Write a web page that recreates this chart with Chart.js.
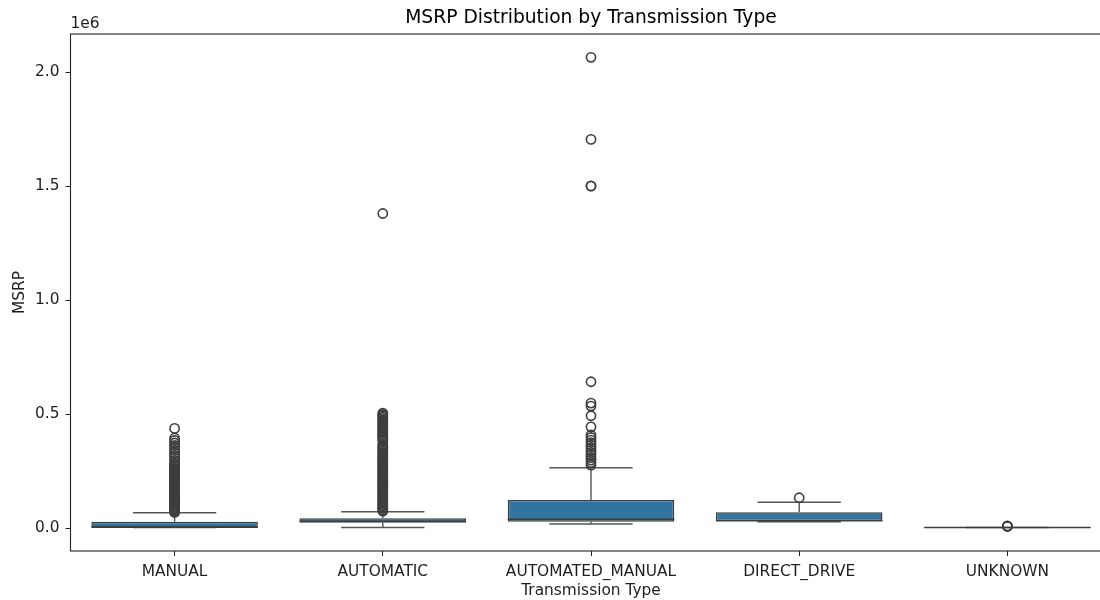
<!DOCTYPE html>
<html>
<head>
<meta charset="utf-8">
<script src="https://cdn.jsdelivr.net/npm/chart.js@4.4.1/dist/chart.umd.min.js"></script>
<style>
  html, body { margin: 0; padding: 0; background: #fff; overflow: hidden; }
  canvas { display: block; }
</style>
</head>
<body>
<canvas id="msrpBox" width="1130" height="600"></canvas>
<script>
// Categories and box statistics (MSRP in dollars)
const transmissions = ['MANUAL', 'AUTOMATIC', 'AUTOMATED_MANUAL', 'DIRECT_DRIVE', 'UNKNOWN'];
const whiskerLow = [2000, 2000, 17500, 27600, 2000];
const q1 = [2000, 23200, 27600, 30500, 2000];
const medians = [3500, 29500, 38000, 31500, 2000];
const q3 = [27600, 42500, 122800, 68700, 2100];
const whiskerHigh = [67000, 71500, 264500, 112700, 2100];

// Outliers per category
const manualOutliers = [
  68500, 73000, 79500, 84000, 90500, 95000, 101500, 107000, 112000, 118500,
  123000, 129500, 135000, 140000, 146500, 151000, 157500, 163000, 168000, 174500,
  180000, 185500, 191000, 197500, 203000, 208000, 214500, 220000, 226500, 231000,
  237500, 243000, 249000, 255500, 261000, 267000, 272500, 279000, 285000, 296000,
  307000, 318000, 329000, 340000, 351000, 362000, 373000, 384000, 395000, 437000
];
const automaticOutliers = [
  74000, 79500, 86000, 91000, 97500, 103000, 109500, 115000, 121000, 127500,
  133000, 139500, 145000, 151000, 157500, 163000, 169000, 175500, 181000, 187000,
  193500, 199000, 205500, 211000, 217000, 223500, 229000, 235000, 241500, 247000,
  253000, 259500, 265000, 271000, 277500, 283000, 289000, 295500, 301000, 307000,
  313500, 319000, 325000, 331500, 338000, 345000, 352500, 359000, 366000, 383000,
  390000, 396500, 402000, 408000, 414500, 420000, 426000, 432500, 438000, 444000,
  450500, 456000, 462000, 468500, 474000, 480000, 486500, 492000, 498000, 504000,
  1380000
];
const automatedManualOutliers = [
  276000, 287000, 298000, 309000, 320000, 331000, 342000, 353000, 364000, 375000,
  386000, 397000, 408000, 444000, 492500, 535000, 548000, 641700,
  1500000, 1501000, 1705000, 2065000
];
const directDriveOutliers = [132900];
const unknownOutliers = [6500, 8000, 9000];

const outlierLists = [manualOutliers, automaticOutliers, automatedManualOutliers, directDriveOutliers, unknownOutliers];

const yTickValues = [0, 500000, 1000000, 1500000, 2000000];

const outlierPoints = [];
outlierLists.forEach((list, i) => {
  list.forEach(v => outlierPoints.push({ x: transmissions[i], y: v }));
});

const lineColor = '#3d3d3d';
const boxFill = '#3274a1';
const textColor = '#1e1e1e';
const fontFamily = '"DejaVu Sans", sans-serif';

// whiskers, caps and medians, plus the frame and header texts
const boxDecor = {
  id: 'boxDecor',
  afterDatasetDraw(chart, args) {
    if (args.index !== 1) return;
    const ctx = chart.ctx;
    const x = chart.scales.x;
    const y = chart.scales.y;
    const bars = chart.getDatasetMeta(1).data;
    ctx.save();
    ctx.lineCap = 'butt';
    transmissions.forEach((t, i) => {
      const cx = x.getPixelForValue(i);
      const half = bars[i].width / 2;
      const cap = half / 2;
      ctx.strokeStyle = '#555';
      ctx.lineWidth = 1.4;
      ctx.beginPath();
      ctx.moveTo(cx, y.getPixelForValue(q3[i]));
      ctx.lineTo(cx, y.getPixelForValue(whiskerHigh[i]));
      ctx.moveTo(cx - cap, y.getPixelForValue(whiskerHigh[i]));
      ctx.lineTo(cx + cap, y.getPixelForValue(whiskerHigh[i]));
      ctx.moveTo(cx, y.getPixelForValue(q1[i]));
      ctx.lineTo(cx, y.getPixelForValue(whiskerLow[i]));
      ctx.moveTo(cx - cap, y.getPixelForValue(whiskerLow[i]));
      ctx.lineTo(cx + cap, y.getPixelForValue(whiskerLow[i]));
      ctx.stroke();
      ctx.strokeStyle = lineColor;
      ctx.lineWidth = 1.5;
      ctx.beginPath();
      ctx.moveTo(cx - half, y.getPixelForValue(medians[i]));
      ctx.lineTo(cx + half, y.getPixelForValue(medians[i]));
      ctx.stroke();
    });
    ctx.restore();
  },
  afterDraw(chart) {
    const ctx = chart.ctx;
    const a = chart.chartArea;
    ctx.save();
    ctx.strokeStyle = '#222';
    ctx.lineWidth = 1.1;
    ctx.strokeRect(a.left, a.top, a.right - a.left, a.bottom - a.top);
    ctx.fillStyle = '#000';
    ctx.font = '18.7px ' + fontFamily;
    ctx.textAlign = 'center';
    ctx.textBaseline = 'middle';
    ctx.fillText('MSRP Distribution by Transmission Type', (a.left + a.right) / 2, 18);
    ctx.font = '15.4px ' + fontFamily;
    ctx.fillStyle = textColor;
    ctx.textAlign = 'left';
    ctx.textBaseline = 'middle';
    ctx.fillText('1e6', a.left, 24);
    ctx.restore();
  }
};

new Chart(document.getElementById('msrpBox'), {
  data: {
    labels: transmissions,
    datasets: [
      {
        type: 'line',
        label: 'Outliers',
        data: outlierPoints,
        showLine: false,
        pointStyle: 'circle',
        pointRadius: 4.6,
        pointBorderWidth: 1.6,
        pointBorderColor: lineColor,
        pointBackgroundColor: 'rgba(0,0,0,0)',
        pointHoverRadius: 4.6
      },
      {
        type: 'bar',
        label: 'MSRP',
        data: transmissions.map((t, i) => [q1[i], q3[i]]),
        backgroundColor: boxFill,
        borderColor: lineColor,
        borderWidth: 1.5,
        borderSkipped: false,
        barPercentage: 0.8,
        categoryPercentage: 1.0
      }
    ]
  },
  options: {
    responsive: false,
    animation: false,
    layout: { padding: { top: 34, right: 18.5, left: 0, bottom: 0 } },
    plugins: {
      legend: { display: false },
      tooltip: { enabled: false },
      title: { display: false }
    },
    scales: {
      x: {
        type: 'category',
        offset: true,
        grid: { display: true, offset: false, drawOnChartArea: false, drawTicks: true, tickLength: 5, color: '#222' },
        border: { display: false },
        ticks: { color: textColor, padding: 7, font: { family: fontFamily, size: 15.4 }, maxRotation: 0 },
        title: { display: true, text: 'Transmission Type', color: textColor, padding: { top: 0, bottom: 0 }, font: { family: fontFamily, size: 15.4 } },
        afterFit(scale) { scale.height = 49; }
      },
      y: {
        min: -100900,
        max: 2167500,
        grid: { display: true, drawOnChartArea: false, drawTicks: true, tickLength: 5, color: '#222' },
        border: { display: false },
        afterBuildTicks(scale) { scale.ticks = yTickValues.map(v => ({ value: v })); },
        ticks: {
          color: textColor,
          padding: 6,
          font: { family: fontFamily, size: 15.4 },
          callback: v => (v / 1e6).toFixed(1)
        },
        title: { display: true, text: 'MSRP', color: textColor, padding: { top: 11, bottom: 0 }, font: { family: fontFamily, size: 15.4 } },
        afterFit(scale) { scale.width = 70.5; }
      }
    }
  },
  plugins: [boxDecor]
});
</script>
</body>
</html>
